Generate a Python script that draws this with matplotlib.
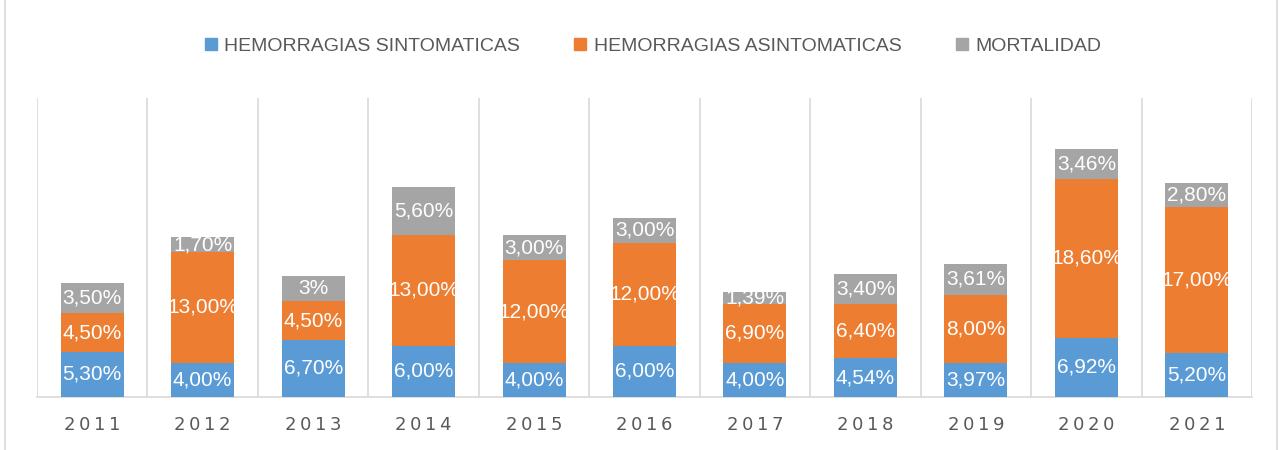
import matplotlib.pyplot as plt
from matplotlib.lines import Line2D
import numpy as np

plt.rcParams['font.family'] = ['Liberation Sans', 'DejaVu Sans']

# data
years = ['2011', '2012', '2013', '2014', '2015', '2016', '2017', '2018', '2019', '2020', '2021']
sintomaticas = [5.30, 4.00, 6.70, 6.00, 4.00, 6.00, 4.00, 4.54, 3.97, 6.92, 5.20]
asintomaticas = [4.50, 13.00, 4.50, 13.00, 12.00, 12.00, 6.90, 6.40, 8.00, 18.60, 17.00]
mortalidad = [3.50, 1.70, 3.00, 5.60, 3.00, 3.00, 1.39, 3.40, 3.61, 3.46, 2.80]
mortalidad_txt = ['3,50%', '1,70%', '3%', '5,60%', '3,00%', '3,00%', '1,39%', '3,40%', '3,61%', '3,46%', '2,80%']

names = ['HEMORRAGIAS SINTOMATICAS', 'HEMORRAGIAS ASINTOMATICAS', 'MORTALIDAD']
colors = ['#5B9BD5', '#ED7D31', '#A5A5A5']

def fmt(v):
    return f"{v:.2f}".replace('.', ',') + '%'

fig = plt.figure(figsize=(12.82, 4.5), dpi=100)
ax = fig.add_axes([37/1282, 53/450, (1252-37)/1282, (397-98)/450])

x = np.arange(len(years))
w = 0.57
s = np.array(sintomaticas)
a = np.array(asintomaticas)
m = np.array(mortalidad)

ax.bar(x, s, w, color=colors[0], zorder=3)
ax.bar(x, a, w, bottom=s, color=colors[1], zorder=3)
ax.bar(x, m, w, bottom=s + a, color=colors[2], zorder=3)

lab = dict(color='white', fontsize=15, ha='center', va='center', zorder=4)
for i in range(len(years)):
    ax.text(x[i], s[i] / 2, fmt(s[i]), **lab)
    ax.text(x[i], s[i] + a[i] / 2, fmt(a[i]), **lab)
    ax.text(x[i], s[i] + a[i] + m[i] / 2, mortalidad_txt[i], **lab)

ax.set_xlim(-0.5, len(years) - 0.5)
ax.set_ylim(0, 35)
ax.set_yticks([])
ax.set_xticks(x)
ax.set_xticklabels(['\u2009'.join(y) for y in years], color='#595959', fontsize=13,
                   family=['DejaVu Sans'])
ax.tick_params(axis='x', length=0, pad=14)
ax.set_xticks(np.arange(-0.5, len(years)), minor=True)
ax.tick_params(axis='x', which='minor', length=0)
ax.grid(axis='x', which='minor', color='#D9D9D9', linewidth=1.2, zorder=0)
for sp in ['top', 'left', 'right']:
    ax.spines[sp].set_visible(False)
ax.spines['bottom'].set_color('#D9D9D9')
ax.spines['bottom'].set_linewidth(1.2)

handles = [Line2D([], [], marker='s', linestyle='none', markersize=9,
                  markerfacecolor=c, markeredgecolor=c) for c in colors]
fig.legend(handles, names, loc='center', bbox_to_anchor=(0.508, 0.897), ncol=3,
           frameon=False, fontsize=14, labelcolor='#595959', columnspacing=2.6,
           handletextpad=0.2, handlelength=1.0)

# outer chart frame
fig.add_artist(Line2D([5/1282, 5/1282], [0, 1], transform=fig.transFigure, color='#D9D9D9', lw=1.2))
fig.add_artist(Line2D([1277/1282, 1277/1282], [0, 1], transform=fig.transFigure, color='#D9D9D9', lw=1.2))

fig.savefig('out.png', dpi=100)
